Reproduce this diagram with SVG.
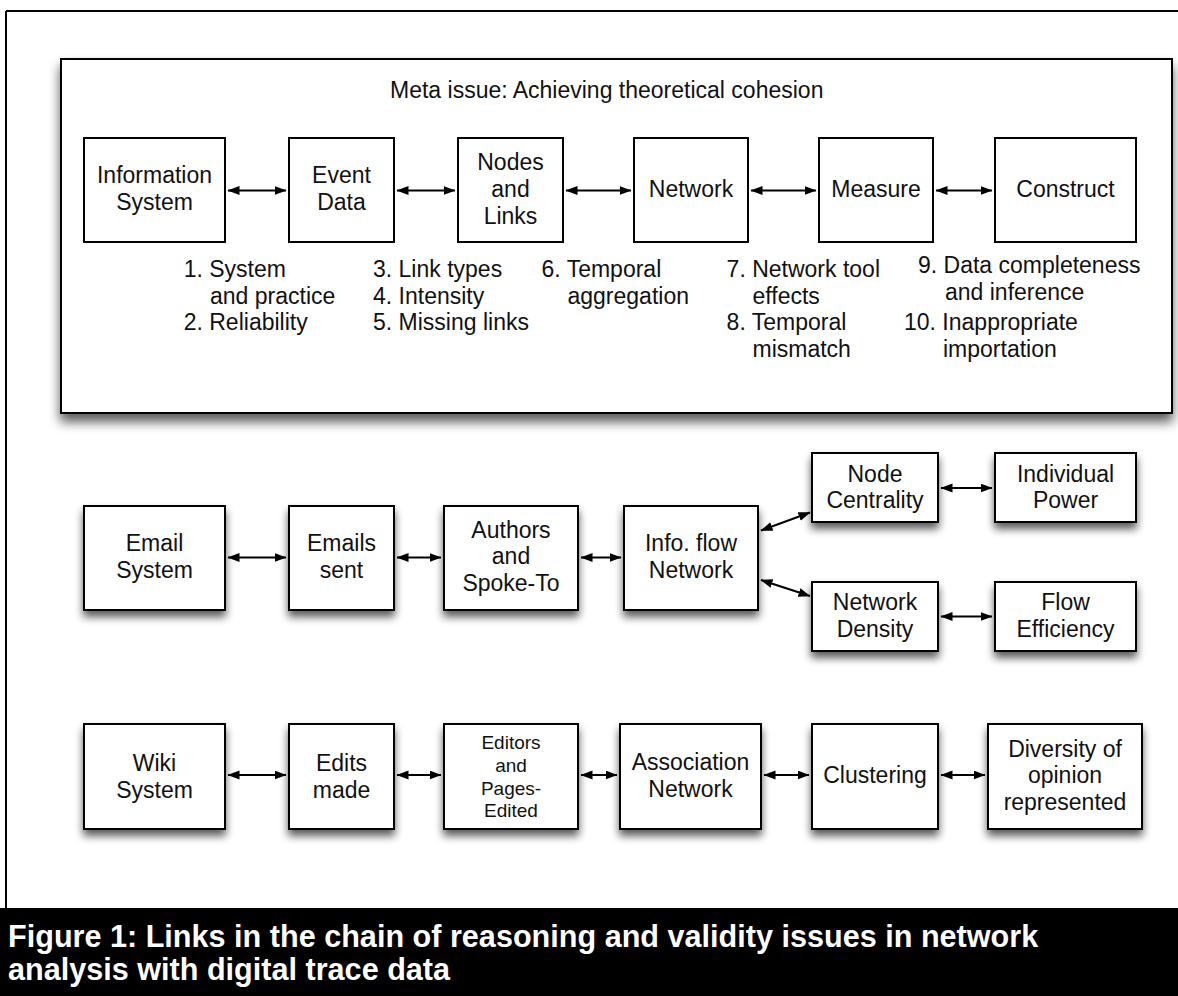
<svg xmlns="http://www.w3.org/2000/svg" width="1178" height="996" viewBox="0 0 1178 996">
<style>
.box{fill:#fff;stroke:#000;stroke-width:2}
.t{font-family:"Liberation Sans",Arial,Helvetica,sans-serif;font-size:23px;fill:#111}
.c{text-anchor:middle}
.s{font-size:19px}
.cap{font-family:"Liberation Sans",Arial,Helvetica,sans-serif;font-size:30.6px;font-weight:bold;fill:#fff}
.conn line{stroke:#000;stroke-width:2;marker-start:url(#ah);marker-end:url(#ah)}
</style>
<defs>
<marker id="ah" markerUnits="userSpaceOnUse" markerWidth="13" markerHeight="10" refX="11.5" refY="4.5" orient="auto-start-reverse" viewBox="0 0 13 10">
<path d="M0,0 L12,4.5 L0,9 z" fill="#000"/>
</marker>
<filter id="sh" x="-20%" y="-20%" width="150%" height="170%">
<feGaussianBlur in="SourceAlpha" stdDeviation="4"/>
<feOffset dx="0" dy="6"/>
<feComponentTransfer><feFuncA type="linear" slope="0.65"/></feComponentTransfer>
<feMerge><feMergeNode/><feMergeNode in="SourceGraphic"/></feMerge>
</filter>
<filter id="shb" x="-5%" y="-10%" width="110%" height="125%">
<feGaussianBlur in="SourceAlpha" stdDeviation="6"/>
<feOffset dx="0" dy="8"/>
<feComponentTransfer><feFuncA type="linear" slope="0.65"/></feComponentTransfer>
<feMerge><feMergeNode/><feMergeNode in="SourceGraphic"/></feMerge>
</filter>
</defs>
<rect x="0" y="0" width="1178" height="996" fill="#fff"/>
<path d="M6,11 H1178 M6,11 V908" fill="none" stroke="#000" stroke-width="2"/>

<g id="meta">
<rect class="box" x="61" y="59" width="1111" height="354" filter="url(#shb)" stroke-width="2.5"/>
<text class="t" x="390" y="98">Meta issue: Achieving theoretical cohesion</text>
</g>

<g id="n-infosys"><rect class="box" x="84" y="138" width="141" height="104"/><text class="t c" x="154.5" y="183">Information<tspan x="154.5" y="210">System</tspan></text></g>
<g id="n-event"><rect class="box" x="289" y="138" width="105" height="104"/><text class="t c" x="341.5" y="183">Event<tspan x="341.5" y="210">Data</tspan></text></g>
<g id="n-nodes"><rect class="box" x="458" y="138" width="105" height="104"/><text class="t c" x="510.5" y="170">Nodes<tspan x="510.5" y="197">and</tspan><tspan x="510.5" y="223.5">Links</tspan></text></g>
<g id="n-network"><rect class="box" x="634" y="138" width="114" height="104"/><text class="t c" x="691" y="197">Network</text></g>
<g id="n-measure"><rect class="box" x="819" y="138" width="114" height="104"/><text class="t c" x="876" y="197">Measure</text></g>
<g id="n-construct"><rect class="box" x="995" y="138" width="141" height="104"/><text class="t c" x="1065.5" y="197">Construct</text></g>

<g id="issues">
<text class="t" x="183.7" y="277">1. System<tspan x="210" y="303.5">and practice</tspan><tspan x="183.7" y="330">2. Reliability</tspan></text>
<text class="t" x="373" y="277">3. Link types<tspan x="373" y="303.5">4. Intensity</tspan><tspan x="373" y="330">5. Missing links</tspan></text>
<text class="t" x="541.5" y="277">6. Temporal<tspan x="567.5" y="303.5">aggregation</tspan></text>
<text class="t" x="726.6" y="277">7. Network tool<tspan x="752.5" y="303.5">effects</tspan><tspan x="726.6" y="330">8. Temporal</tspan><tspan x="752.5" y="356.7">mismatch</tspan></text>
<text class="t" x="918" y="273">9. Data completeness<tspan x="945" y="299.5">and inference</tspan><tspan x="904" y="330">10. Inappropriate</tspan><tspan x="943" y="356.7">importation</tspan></text>
</g>

<g id="n-email"><rect class="box" x="84" y="506" width="141" height="104" filter="url(#sh)"/><text class="t c" x="154.5" y="551">Email<tspan x="154.5" y="578">System</tspan></text></g>
<g id="n-emails"><rect class="box" x="289" y="506" width="105" height="104" filter="url(#sh)"/><text class="t c" x="341.5" y="551">Emails<tspan x="341.5" y="578">sent</tspan></text></g>
<g id="n-authors"><rect class="box" x="444" y="506" width="134" height="104" filter="url(#sh)"/><text class="t c" x="511" y="537.7">Authors<tspan x="511" y="564.3">and</tspan><tspan x="511" y="591">Spoke-To</tspan></text></g>
<g id="n-infoflow"><rect class="box" x="624" y="506" width="134" height="104" filter="url(#sh)"/><text class="t c" x="691" y="551">Info. flow<tspan x="691" y="578">Network</tspan></text></g>
<g id="n-centrality"><rect class="box" x="812" y="453" width="126" height="69" filter="url(#sh)"/><text class="t c" x="875" y="481.7">Node<tspan x="875" y="508.3">Centrality</tspan></text></g>
<g id="n-power"><rect class="box" x="995" y="453" width="141" height="69" filter="url(#sh)"/><text class="t c" x="1065.5" y="481.7">Individual<tspan x="1065.5" y="508.3">Power</tspan></text></g>
<g id="n-density"><rect class="box" x="812" y="582" width="126" height="69" filter="url(#sh)"/><text class="t c" x="875" y="610">Network<tspan x="875" y="636.7">Density</tspan></text></g>
<g id="n-efficiency"><rect class="box" x="995" y="582" width="141" height="69" filter="url(#sh)"/><text class="t c" x="1065.5" y="610">Flow<tspan x="1065.5" y="636.7">Efficiency</tspan></text></g>

<g id="n-wiki"><rect class="box" x="84" y="724" width="141" height="105" filter="url(#sh)"/><text class="t c" x="154.5" y="770.5">Wiki<tspan x="154.5" y="797.5">System</tspan></text></g>
<g id="n-edits"><rect class="box" x="289" y="724" width="105" height="105" filter="url(#sh)"/><text class="t c" x="341.5" y="770.5">Edits<tspan x="341.5" y="797.5">made</tspan></text></g>
<g id="n-editors"><rect class="box" x="444" y="724" width="134" height="105" filter="url(#sh)"/><text class="t s c" x="511" y="749.3">Editors<tspan x="511" y="771.7">and</tspan><tspan x="511" y="794.5">Pages-</tspan><tspan x="511" y="816.7">Edited</tspan></text></g>
<g id="n-assoc"><rect class="box" x="620" y="724" width="141" height="105" filter="url(#sh)"/><text class="t c" x="690.5" y="770">Association<tspan x="690.5" y="797">Network</tspan></text></g>
<g id="n-cluster"><rect class="box" x="812" y="724" width="126" height="105" filter="url(#sh)"/><text class="t c" x="875" y="783">Clustering</text></g>
<g id="n-diversity"><rect class="box" x="988" y="724" width="154" height="105" filter="url(#sh)"/><text class="t c" x="1065" y="756.5">Diversity of<tspan x="1065" y="783">opinion</tspan><tspan x="1065" y="810">represented</tspan></text></g>

<g id="connectors" class="conn">
<line x1="228" y1="190.5" x2="286" y2="190.5"/>
<line x1="397" y1="190.5" x2="455" y2="190.5"/>
<line x1="566" y1="190.5" x2="631" y2="190.5"/>
<line x1="751" y1="190.5" x2="816" y2="190.5"/>
<line x1="936" y1="190.5" x2="992" y2="190.5"/>
<line x1="228" y1="557.5" x2="286" y2="557.5"/>
<line x1="397" y1="557.5" x2="441" y2="557.5"/>
<line x1="581" y1="557.5" x2="621" y2="557.5"/>
<line x1="761" y1="530.5" x2="810" y2="512.5"/>
<line x1="761" y1="580" x2="810" y2="596"/>
<line x1="941" y1="488" x2="992" y2="488"/>
<line x1="941" y1="616.5" x2="992" y2="616.5"/>
<line x1="228" y1="775" x2="286" y2="775"/>
<line x1="397" y1="775" x2="441" y2="775"/>
<line x1="581" y1="775" x2="617" y2="775"/>
<line x1="764" y1="775" x2="809" y2="775"/>
<line x1="941" y1="775" x2="985" y2="775"/>
</g>

<g id="caption">
<rect x="0" y="908" width="1178" height="88" fill="#000"/>
<text class="cap" x="8" y="946.7">Figure 1: Links in the chain of reasoning and validity issues in network<tspan x="8" y="980">analysis with digital trace data</tspan></text>
</g>
</svg>
